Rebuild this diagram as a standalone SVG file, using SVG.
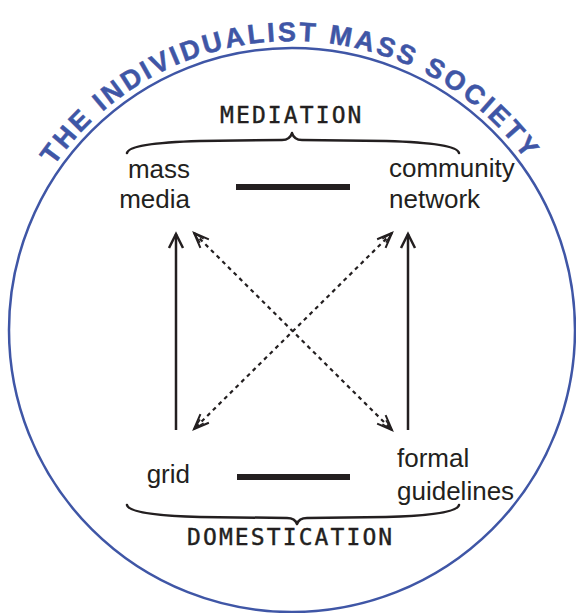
<svg xmlns="http://www.w3.org/2000/svg" width="576" height="613" viewBox="0 0 576 613">
<style>
.ring{fill:none;stroke:#3f56a6;stroke-width:2.5}
.title{font-family:"Liberation Sans",Arial,sans-serif;font-weight:bold;font-size:27px;fill:#3f56a6;stroke:#3f56a6;stroke-width:0.5;letter-spacing:2.8px}
.lbl{font-family:"Liberation Sans",Arial,sans-serif;font-size:26px;fill:#231f20}
.hand{font-family:"DejaVu Sans Mono",monospace;font-size:23px;fill:#231f20;stroke:#231f20;stroke-width:0.4;letter-spacing:2.1px}
.brace{fill:none;stroke:#231f20;stroke-width:2.5;stroke-linecap:round;stroke-linejoin:round}
.bar{stroke:#231f20;stroke-width:6}
.solid{stroke:#231f20;stroke-width:2.5;fill:none}
.dash{stroke:#231f20;stroke-width:2.2;fill:none;stroke-dasharray:4 4}
</style>
<defs>
<path id="arc" d="M3,330 A289,289 0 0 1 581,330"/>
<marker id="open" markerUnits="userSpaceOnUse" viewBox="-16 -9 18 18" markerWidth="18" markerHeight="18" refX="0" refY="0" orient="auto" overflow="visible">
<path d="M-14,-7 L0,0 L-14,7" fill="none" stroke="#231f20" stroke-width="2.5" stroke-linejoin="miter"/>
</marker>
<marker id="hollow" markerUnits="userSpaceOnUse" viewBox="-16 -9 18 18" markerWidth="18" markerHeight="18" refX="0" refY="0" orient="auto-start-reverse" overflow="visible">
<path d="M-15,-6 L0,0 L-15,6" fill="none" stroke="#231f20" stroke-width="2"/>
<path d="M-11,-2.5 L0,0 L-11,2.5" fill="none" stroke="#231f20" stroke-width="1.5"/>
</marker>
</defs>
<g id="society">
<ellipse class="ring" cx="292" cy="330" rx="283" ry="282"/>
<text class="title"><textPath href="#arc" startOffset="451" text-anchor="middle">THE INDIVIDUALIST MASS SOCIETY</textPath></text>
</g>
<g id="mediation">
<path class="brace" d="M127,153 Q129,143 200,141 L282,140 Q290,140 292,133 Q294,140 302,140 L386,141 Q457,143 459,153"/>
<text class="hand" x="220" y="123">MEDIATION</text>
</g>
<g id="domestication">
<path class="brace" d="M127,505 Q129,515 200,517 L287,518 Q295,518 297,524 Q299,518 307,518 L386,517 Q457,515 459,505"/>
<text class="hand" x="187" y="545">DOMESTICATION</text>
</g>
<g id="mass-media">
<text class="lbl" x="190" y="178" text-anchor="end">mass</text>
<text class="lbl" x="190" y="208" text-anchor="end">media</text>
</g>
<g id="community-network">
<text class="lbl" x="389" y="177">community</text>
<text class="lbl" x="389" y="208">network</text>
</g>
<g id="grid">
<text class="lbl" x="190" y="483" text-anchor="end">grid</text>
</g>
<g id="formal-guidelines">
<text class="lbl" x="397" y="467">formal</text>
<text class="lbl" x="397" y="500">guidelines</text>
</g>
<g id="connectors">
<line class="bar" x1="236" y1="187" x2="350" y2="187"/>
<line class="bar" x1="237" y1="477" x2="350" y2="477"/>
<line class="solid" x1="176" y1="430" x2="176" y2="234" marker-end="url(#open)"/>
<line class="solid" x1="408" y1="430" x2="408" y2="234" marker-end="url(#open)"/>
<line class="dash" x1="194" y1="233" x2="392" y2="430" marker-start="url(#hollow)" marker-end="url(#hollow)"/>
<line class="dash" x1="392" y1="233" x2="194" y2="429" marker-start="url(#hollow)" marker-end="url(#hollow)"/>
</g>
</svg>
